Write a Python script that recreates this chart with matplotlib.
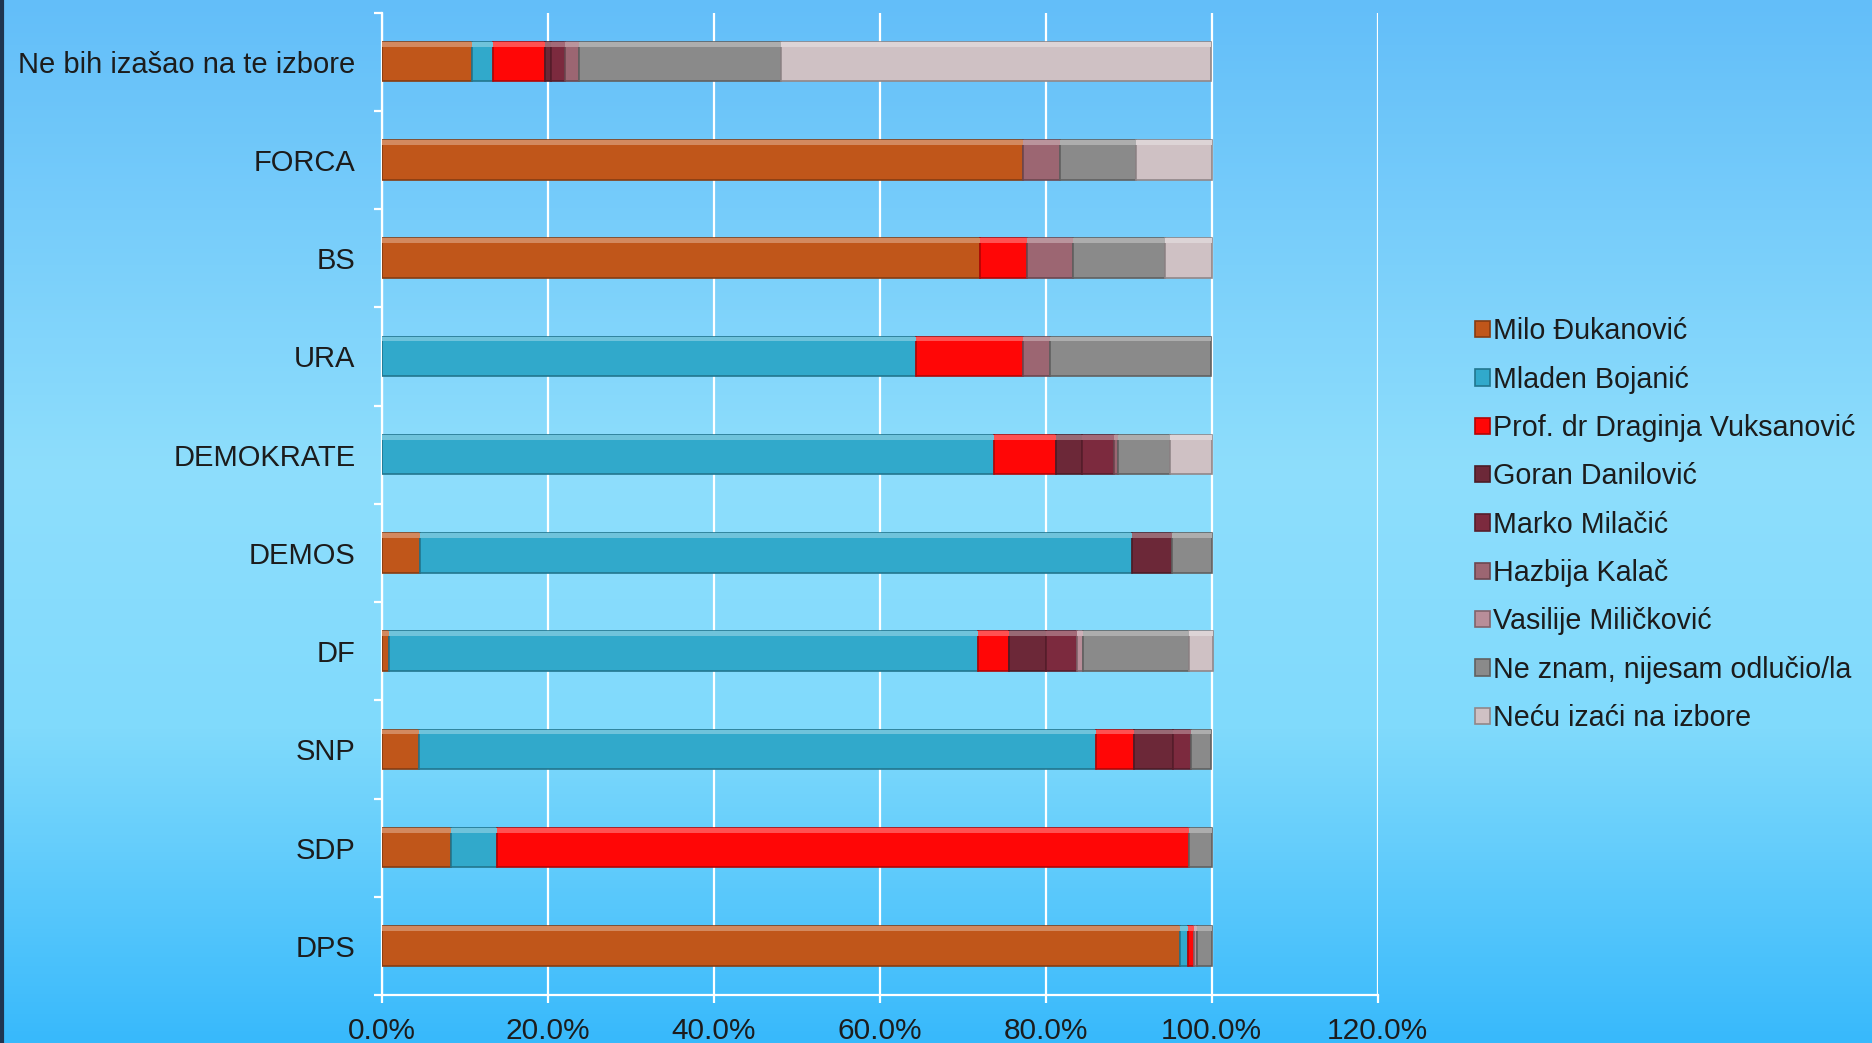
import numpy as np
import matplotlib.pyplot as plt
from matplotlib.colors import LinearSegmentedColormap, to_rgb
from matplotlib.ticker import FuncFormatter, FixedLocator

categories = ["Ne bih izašao na te izbore", "FORCA", "BS", "URA", "DEMOKRATE",
              "DEMOS", "DF", "SNP", "SDP", "DPS"]

milo = [10.9, 77.2, 72.1, 0, 0, 4.6, 0.8, 4.5, 8.3, 96.2]
mladen = [2.5, 0, 0, 64.4, 73.7, 85.8, 71.0, 81.5, 5.6, 0.9]
draginja = [6.3, 0, 5.6, 12.9, 7.5, 0, 3.8, 4.6, 83.3, 0.7]
goran = [0.7, 0, 0, 0, 3.2, 4.8, 4.4, 4.7, 0, 0]
marko = [1.7, 0, 0, 0, 3.8, 0, 3.7, 2.2, 0, 0]
hazbija = [1.6, 4.5, 5.6, 3.2, 0.5, 0, 0, 0, 0, 0]
vasilije = [0, 0, 0, 0, 0, 0, 0.8, 0, 0, 0.4]
neznam = [24.4, 9.2, 11.1, 19.4, 6.3, 4.8, 12.8, 2.4, 2.8, 1.8]
necu = [51.8, 9.1, 5.6, 0, 5.0, 0, 2.8, 0, 0, 0]

series = [
    ("Milo Đukanović", milo, "#c0561a"),
    ("Mladen Bojanić", mladen, "#31a9cb"),
    ("Prof. dr Draginja Vuksanović", draginja, "#ff0606"),
    ("Goran Danilović", goran, "#6c2838"),
    ("Marko Milačić", marko, "#7c2a3e"),
    ("Hazbija Kalač", hazbija, "#9c6672"),
    ("Vasilije Miličković", vasilije, "#b88e99"),
    ("Ne znam, nijesam odlučio/la", neznam, "#8a8a8a"),
    ("Neću izaći na izbore", necu, "#cfc1c4"),
]

def shade(c, f):
    r, g, b = to_rgb(c)
    return (r * f, g * f, b * f)

def tint(c, f):
    r, g, b = to_rgb(c)
    return (r + (1 - r) * f, g + (1 - g) * f, b + (1 - b) * f)

fig = plt.figure(figsize=(18.72, 10.43), dpi=100)

# background gradient
bg = fig.add_axes([0, 0, 1, 1], zorder=-10)
cmap = LinearSegmentedColormap.from_list(
    "bg", [(0, "#63bef9"), (0.45, "#8edefc"), (0.7, "#80dafc"), (1, "#38b9fb")])
bg.imshow(np.linspace(0, 1, 256).reshape(-1, 1), aspect="auto", cmap=cmap,
          extent=[0, 1, 0, 1], origin="upper")
bg.plot([0.001, 0.001], [0, 1], color="#1f3550", lw=3)
bg.set_xlim(0, 1)
bg.set_ylim(0, 1)
bg.axis("off")

ax = fig.add_axes([0.204, 0.046, 0.532, 0.942])
ax.patch.set_alpha(0)

y = np.arange(len(categories))
h = 0.4
left = np.zeros(len(categories))
for name, vals, col in series:
    vals = np.array(vals, dtype=float)
    m = vals > 0
    ax.barh(y[m], vals[m], height=h, left=left[m], color=col,
            edgecolor=shade(col, 0.7), linewidth=1.2, zorder=3, label=name)
    # highlight on top edge of each segment
    ax.barh(y[m] - h / 2 + h * 0.06, vals[m], height=h * 0.12, left=left[m],
            color=tint(col, 0.3), linewidth=0, zorder=4)
    left += vals

ax.set_xlim(0, 120)
ax.set_ylim(len(categories) - 0.5, -0.5)
ax.xaxis.set_major_locator(FixedLocator(np.arange(0, 121, 20)))
ax.xaxis.set_major_formatter(FuncFormatter(lambda v, p: f"{v:.1f}%"))
ax.set_yticks(y)
ax.set_yticklabels(categories)
ax.yaxis.set_minor_locator(FixedLocator(np.arange(-0.5, len(categories), 1)))

ax.grid(axis="x", color="white", lw=1.6, zorder=1)
for s in ["top", "right"]:
    ax.spines[s].set_visible(False)
for s in ["left", "bottom"]:
    ax.spines[s].set_color("white")
    ax.spines[s].set_linewidth(1.6)

ax.tick_params(axis="y", which="major", length=0, pad=19, labelsize=21,
               labelcolor="#1c1c1c")
ax.tick_params(axis="y", which="minor", length=6, color="white", width=1.6)
ax.tick_params(axis="x", length=6, color="white", width=1.6, pad=10,
               labelsize=21.5, labelcolor="#1c1c1c")
for t in ax.get_yticklabels():
    t.set_family(["Liberation Sans", "DejaVu Sans"])
for t in ax.get_xticklabels():
    t.set_family(["Liberation Sans Narrow", "Liberation Sans", "DejaVu Sans"])

leg = ax.legend(loc="center left", bbox_to_anchor=(0.7805, 0.497),
                bbox_transform=fig.transFigure, frameon=False,
                prop={"family": ["Liberation Sans", "DejaVu Sans"], "size": 20.6},
                handlelength=0.5, handleheight=0.5, handletextpad=0.1,
                labelspacing=0.71, borderpad=0)
for t in leg.get_texts():
    t.set_color("#1c1c1c")

fig.savefig("out.png", dpi=100)
